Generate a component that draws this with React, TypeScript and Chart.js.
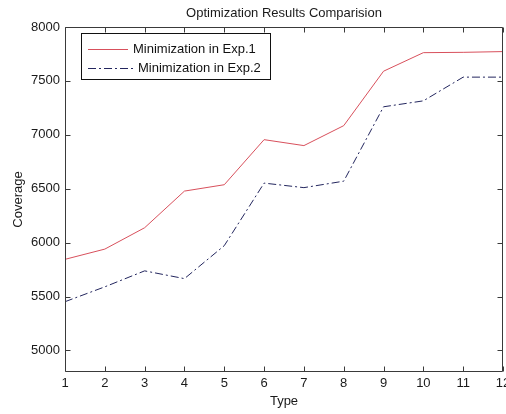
import React, { useEffect, useRef } from "react";
import { Chart, registerables } from "chart.js";

Chart.register(...registerables);

const categories = ["1", "2", "3", "4", "5", "6", "7", "8", "9", "10", "11", "12"];
const exp1 = [5845, 5940, 6138, 6478, 6537, 6955, 6900, 7085, 7590, 7762, 7765, 7772];
const exp2 = [5452, 5590, 5738, 5666, 5972, 6552, 6510, 6570, 7260, 7315, 7535, 7535];
const yTicks = [5000, 5500, 6000, 6500, 7000, 7500, 8000];
const seriesLabels = ["Minimization in Exp.1", "Minimization in Exp.2"];
const titleText = "Optimization Results Comparision";
const xTitle = "Type";
const yTitle = "Coverage";

const FONT = "'Liberation Sans', Arial, Helvetica, sans-serif";

const boxPlugin = {
  id: "matlabBox",
  afterDatasetsDraw(chart: any) {
    const { ctx, chartArea: a, scales } = chart;
    ctx.save();
    ctx.strokeStyle = "#3a3a3a";
    ctx.lineWidth = 1;
    ctx.setLineDash([]);
    const L = Math.round(a.left) + 0.5;
    const R = Math.round(a.right) - 0.5;
    const T = Math.round(a.top) + 0.5;
    const B = Math.round(a.bottom) - 0.5;
    ctx.beginPath();
    ctx.rect(L, T, R - L, B - T);
    const tl = 5;
    scales.x.ticks.forEach((_: any, i: number) => {
      const px = Math.round(scales.x.getPixelForTick(i)) + 0.5;
      ctx.moveTo(px, B);
      ctx.lineTo(px, B - tl);
      ctx.moveTo(px, T);
      ctx.lineTo(px, T + tl);
    });
    scales.y.ticks.forEach((t: any) => {
      const py = Math.round(scales.y.getPixelForValue(t.value)) + 0.5;
      ctx.moveTo(L, py);
      ctx.lineTo(L + tl, py);
      ctx.moveTo(R, py);
      ctx.lineTo(R - tl, py);
    });
    ctx.stroke();

    // legend
    const lx = 81.5, ly = 33.5, lw = 189, lh = 46;
    ctx.fillStyle = "#ffffff";
    ctx.fillRect(lx, ly, lw, lh);
    ctx.strokeStyle = "#111";
    ctx.strokeRect(lx, ly, lw, lh);
    ctx.font = "13px " + FONT;
    ctx.textBaseline = "middle";
    ctx.textAlign = "left";
    const rows = [
      { y: 49.5, x1: 88, x2: 128, tx: 133 },
      { y: 68.5, x1: 88, x2: 133, tx: 138 },
    ];
    chart.data.datasets.forEach((ds: any, i: number) => {
      const r = rows[i];
      ctx.strokeStyle = ds.borderColor;
      ctx.lineWidth = 1;
      ctx.setLineDash(ds.borderDash || []);
      ctx.beginPath();
      ctx.moveTo(r.x1, r.y);
      ctx.lineTo(r.x2, r.y);
      ctx.stroke();
      ctx.setLineDash([]);
      ctx.fillStyle = "#111";
      ctx.fillText(ds.label, r.tx, r.y);
    });
    ctx.restore();
  },
};

export default function App() {
  const ref = useRef<HTMLCanvasElement>(null);
  useEffect(() => {
    document.body.style.margin = "0";
    Chart.defaults.font.family = FONT;
    Chart.defaults.font.size = 13;
    Chart.defaults.color = "#1a1a1a";
    const chart = new Chart(ref.current!, {
      type: "line",
      data: {
        labels: categories,
        datasets: [
          {
            label: seriesLabels[0],
            data: exp1,
            borderColor: "#d8505c",
            borderWidth: 1,
            pointRadius: 0,
            fill: false,
            tension: 0,
          },
          {
            label: seriesLabels[1],
            data: exp2,
            borderColor: "#23265e",
            borderWidth: 1,
            borderDash: [8, 3, 2, 3],
            pointRadius: 0,
            fill: false,
            tension: 0,
          },
        ],
      },
      options: {
        animation: false,
        responsive: false,
        maintainAspectRatio: false,
        layout: { padding: { left: 0, right: 3, top: 0, bottom: 0 } },
        plugins: {
          legend: { display: false },
          tooltip: { enabled: false },
          title: {
            display: true,
            text: titleText,
            fullSize: false,
            font: { size: 13, weight: "normal" },
            color: "#1a1a1a",
            padding: { top: 5.2, bottom: 6.2 },
          },
        },
        scales: {
          x: {
            type: "category",
            offset: false,
            grid: { display: false, drawTicks: false },
            border: { display: false },
            ticks: { padding: 4, maxRotation: 0, autoSkip: false, color: "#1a1a1a" },
            title: { display: true, text: xTitle, padding: { top: 0, bottom: 5.2 }, color: "#1a1a1a" },
            afterFit(s: any) {
              s.height = 42;
              s.paddingLeft = 0;
              s.paddingRight = 0;
            },
          },
          y: {
            type: "linear",
            min: 4800,
            max: 8000,
            grid: { display: false, drawTicks: false },
            border: { display: false },
            ticks: {
              padding: 5,
              color: "#1a1a1a",
              callback: (v: any) => String(v),
            },
            afterBuildTicks(s: any) {
              s.ticks = yTicks.map((v) => ({ value: v }));
            },
            title: { display: true, text: yTitle, padding: { top: 10.5, bottom: 0 }, color: "#1a1a1a" },
            afterFit(s: any) {
              s.width = 65;
              s.paddingTop = 0;
              s.paddingBottom = 0;
            },
          },
        },
      },
      plugins: [boxPlugin],
    });
    return () => chart.destroy();
  }, []);
  return (
    <div style={{ width: 506, height: 414, background: "#fff" }}>
      <canvas ref={ref} width={506} height={414} style={{ width: 506, height: 414, display: "block" }} />
    </div>
  );
}
